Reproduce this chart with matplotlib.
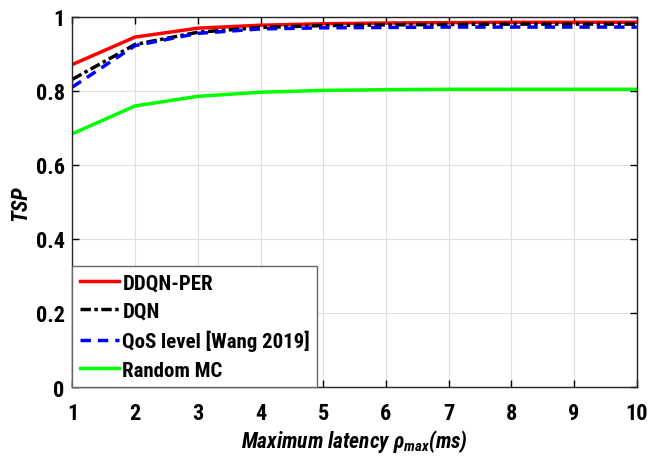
import matplotlib
matplotlib.use("Agg")
import matplotlib.pyplot as plt
from matplotlib import font_manager

x = [1, 2, 3, 4, 5, 6, 7, 8, 9, 10]
ddqn_per = [0.871, 0.945, 0.969, 0.977, 0.981, 0.983, 0.984, 0.985, 0.985, 0.985]
dqn = [0.831, 0.925, 0.958, 0.971, 0.976, 0.978, 0.979, 0.980, 0.980, 0.980]
qos = [0.810, 0.922, 0.955, 0.967, 0.970, 0.971, 0.972, 0.972, 0.972, 0.972]
random_mc = [0.684, 0.759, 0.785, 0.796, 0.801, 0.803, 0.804, 0.804, 0.804, 0.804]
labels = ["DDQN-PER", "DQN", "QoS level [Wang 2019]", "Random MC"]
xticks = [1, 2, 3, 4, 5, 6, 7, 8, 9, 10]
yticks = [0, 0.2, 0.4, 0.6, 0.8, 1]

names = {f.name for f in font_manager.fontManager.ttflist}
fam = "Roboto Condensed" if "Roboto Condensed" in names else "Liberation Sans"
plt.rcParams['font.family'] = [fam, 'DejaVu Sans']
plt.rcParams['font.weight'] = 'bold'
plt.rcParams['mathtext.fontset'] = 'custom'
plt.rcParams['mathtext.it'] = f'{fam}:italic:bold'
plt.rcParams['mathtext.rm'] = f'{fam}:bold'
plt.rcParams['mathtext.fallback'] = 'stixsans'

fig = plt.figure(figsize=(6.64, 4.60), dpi=100)
ax = fig.add_axes([0.109, 0.1565, 0.850, 0.805])

ax.plot(x, ddqn_per, color='#ff0000', lw=2.5, label=labels[0])
ax.plot(x, dqn, color='black', lw=2.5, ls=(0, (3, 1, 1, 1)), label=labels[1])
ax.plot(x, qos, color='#0000ff', lw=2.5, ls=(0, (3, 2)), label=labels[2])
ax.plot(x, random_mc, color='#00ff00', lw=2.5, label=labels[3])

ax.set_xlim(1, 10)
ax.set_ylim(0, 1)
ax.set_xticks(xticks)
ax.set_yticks(yticks)
ax.set_yticklabels(['0', '0.2', '0.4', '0.6', '0.8', '1'])
ax.tick_params(direction='in', top=True, right=True, labelsize=16, length=5, width=1)
ax.tick_params(axis='x', pad=11)
ax.tick_params(axis='y', pad=5.5)
ax.grid(True, color='#e0e0e0', lw=0.8)
for s in ax.spines.values():
    s.set_linewidth(1.0)
    s.set_color('#262626')

ax.set_xlabel(r'Maximum latency $\rho_{max}$(ms)', fontsize=15.5, fontstyle='italic', fontweight='bold', labelpad=2)
ax.set_ylabel('TSP', fontsize=16, fontstyle='italic', fontweight='bold', labelpad=3)

leg = ax.legend(loc='lower left', borderaxespad=0, fontsize=15, fancybox=False,
                framealpha=1, edgecolor='#666666', handlelength=1.9, handletextpad=0.15,
                labelspacing=0.45, borderpad=0.35)
leg.get_frame().set_linewidth(1.0)

fig.savefig('out.png', dpi=100)
